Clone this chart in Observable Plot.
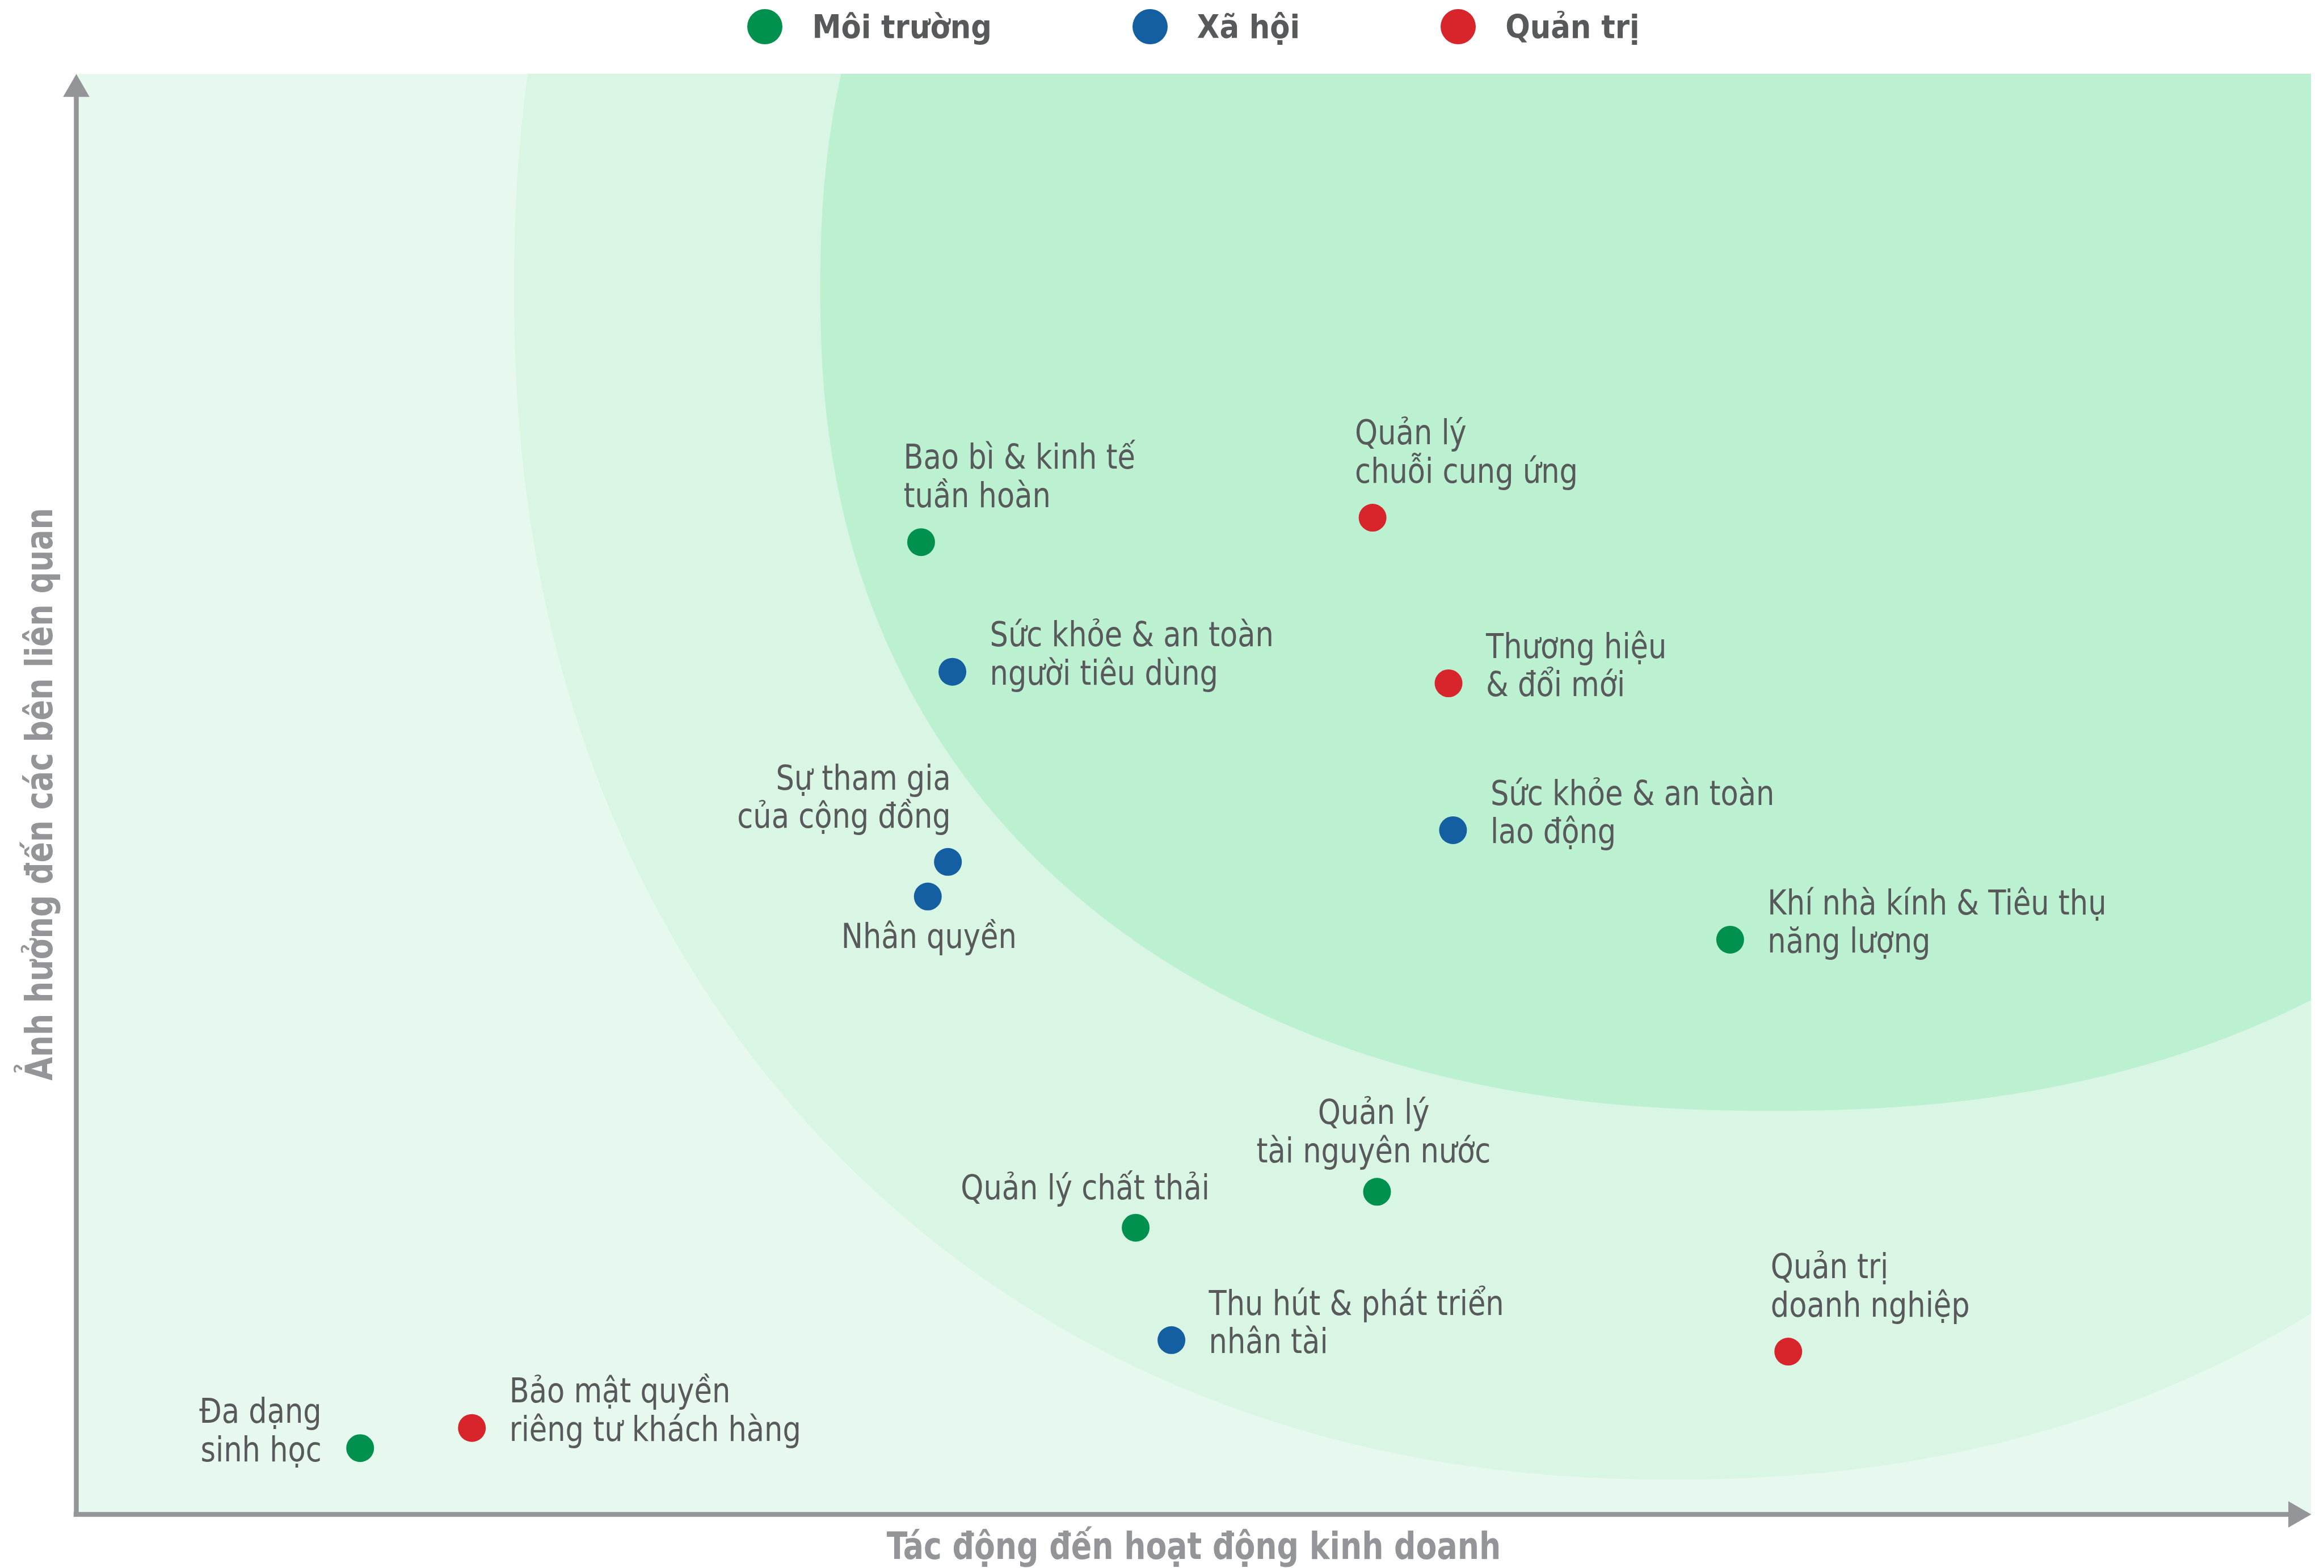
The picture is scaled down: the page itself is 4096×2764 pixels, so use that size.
<!DOCTYPE html>
<html><head><meta charset="utf-8">
<script src="https://cdn.jsdelivr.net/npm/d3@7"></script>
<script src="https://cdn.jsdelivr.net/npm/@observablehq/plot@0.6"></script>
<style>
html,body{margin:0;padding:0;background:#fff;}
#wrap{position:relative;width:4096px;height:2764px;overflow:hidden;}
#legend{position:absolute;top:0;left:134px;width:3939px;height:94px;display:flex;justify-content:center;align-items:center;
  font-family:"Liberation Sans Narrow","DejaVu Sans Condensed","DejaVu Sans",sans-serif;font-weight:bold;font-size:57px;color:#58595b;}
.item{display:flex;align-items:center;margin:0 124px;}
.sw{width:62px;height:62px;border-radius:50%;margin-right:52px;}
#chart{position:absolute;top:0;left:0;}
</style></head>
<body><div id="wrap"><div id="chart"></div><div id="legend"></div></div>
<script>
// ---- data ----
const categories = ["Môi trường", "Xã hội", "Quản trị"];
const categoryColors = ["#00914f", "#135fa1", "#d7252b"];

const topics = [
  "Bao bì & kinh tế\ntuần hoàn",
  "Quản lý\nchuỗi cung ứng",
  "Sức khỏe & an toàn\nngười tiêu dùng",
  "Thương hiệu\n& đổi mới",
  "Sự tham gia\ncủa cộng đồng",
  "Nhân quyền",
  "Sức khỏe & an toàn\nlao động",
  "Khí nhà kính & Tiêu thụ\nnăng lượng",
  "Quản lý\ntài nguyên nước",
  "Quản lý chất thải",
  "Thu hút & phát triển\nnhân tài",
  "Quản trị\ndoanh nghiệp",
  "Đa dạng\nsinh học",
  "Bảo mật quyền\nriêng tư khách hàng"
];
const topicGroup = ["Môi trường","Quản trị","Xã hội","Quản trị","Xã hội","Xã hội","Xã hội",
  "Môi trường","Môi trường","Môi trường","Xã hội","Quản trị","Môi trường","Quản trị"];
// x: Tác động đến hoạt động kinh doanh, y: Ảnh hưởng đến các bên liên quan (0–100)
const businessImpact = [37.8, 58.0, 39.2, 61.4, 39.0, 38.1, 61.6, 74.0, 58.2, 47.4, 49.0, 76.6, 12.7, 17.7];
const stakeholderInfluence = [67.5, 69.2, 58.5, 57.7, 45.3, 42.9, 47.5, 39.9, 22.4, 19.9, 12.1, 11.3, 4.6, 6.0];
const labelPlacement = ["above","above","right","right","aboveLeft","below","right","right",
  "aboveCenter","aboveShift","right","above","left","right"];

const xTitle = "Tác động đến hoạt động kinh doanh";
const yTitle = "Ảnh hưởng đến các bên liên quan";

// background zones (superellipses in data units)
const zoneCx = [71.5, 75.9];
const zoneCy = [85.1, 85.1];
const zoneRx = [51.9, 42.6];
const zoneRy = [82.7, 57.1];
const zoneExp = [2.15, 2.25];
const zoneFill = ["#d9f5e4", "#bbf0d1"];

// ---- layout / style ----
const placements = {
  right:       {textAnchor: "start",  dx: 66,  dy: 23},
  above:       {textAnchor: "start",  dx: -31, dy: -62},
  aboveCenter: {textAnchor: "middle", dx: -6,  dy: -52},
  aboveLeft:   {textAnchor: "end",    dx: 5,   dy: -60},
  aboveShift:  {textAnchor: "middle", dx: -89, dy: -50},
  below:       {textAnchor: "middle", dx: 2,   dy: 91},
  left:        {textAnchor: "end",    dx: -68, dy: 23}
};
const labelFont = '"Liberation Sans Narrow","DejaVu Sans Condensed","DejaVu Sans",sans-serif';
const axisGray = "#939598";
const textGray = "#58595b";

const data = topics.map((t, i) => ({
  topic: t, group: topicGroup[i], x: businessImpact[i], y: stakeholderInfluence[i], place: labelPlacement[i]
}));

function zoneOutline(i) {
  const n = 900, e = 2 / zoneExp[i], out = [];
  for (let k = 0; k <= n; k++) {
    const t = Math.PI - Math.PI * k / n;
    const c = Math.cos(t), s = Math.sin(t);
    const h = zoneRy[i] * Math.pow(Math.abs(s), e);
    out.push({x: zoneCx[i] + zoneRx[i] * Math.sign(c) * Math.pow(Math.abs(c), e), y1: zoneCy[i] - h, y2: zoneCy[i] + h});
  }
  return out;
}

const labelMarks = Object.entries(placements).map(([key, p]) =>
  Plot.text(data.filter(d => d.place === key), {
    x: "x", y: "y", text: "topic", textAnchor: p.textAnchor, dx: p.dx, dy: p.dy,
    lineAnchor: "bottom", lineHeight: 1.11, fontSize: 61, fontFamily: labelFont, fill: textGray
  })
);

const chart = Plot.plot({
  width: 4096, height: 2764,
  marginLeft: 134, marginRight: 23, marginTop: 130, marginBottom: 95,
  x: {domain: [0, 100], axis: null},
  y: {domain: [0, 100], axis: null},
  color: {domain: categories, range: categoryColors},
  style: {background: "white"},
  marks: [
    Plot.frame({fill: "#e7f9ef", stroke: "none"}),
    ...zoneFill.map((f, i) => Plot.areaY(zoneOutline(i), {x: "x", y1: "y1", y2: "y2", fill: f, clip: true})),
    Plot.ruleX([0], {stroke: axisGray, strokeWidth: 8.5, insetTop: 30, insetBottom: -4.25}),
    Plot.ruleY([0], {stroke: axisGray, strokeWidth: 8.5, insetRight: 30, insetLeft: -4.25}),
    Plot.dot([0], {x: 0, y: 100, symbol: "triangle", r: 17.3, fill: axisGray, dy: 26.9}),
    Plot.dot([0], {x: 100, y: 0, symbol: "triangle", r: 17.3, fill: axisGray, rotate: 90, dx: -26.9}),
    Plot.dot(data, {x: "x", y: "y", fill: "group", r: 24.5}),
    ...labelMarks,
    Plot.text([xTitle], {frameAnchor: "bottom", dy: 78, textAnchor: "middle", lineAnchor: "bottom", fontSize: 66, fontWeight: "bold", fontFamily: labelFont, fill: axisGray}),
    Plot.text([yTitle], {frameAnchor: "left", dx: -43, rotate: -90, textAnchor: "middle", lineAnchor: "bottom", fontSize: 66, fontWeight: "bold", fontFamily: labelFont, fill: axisGray})
  ]
});

// emulate the condensed face of the original by narrowing glyphs around each text's anchor
chart.querySelectorAll('g[aria-label="text"] text').forEach(t => {
  const isTitle = t.textContent === xTitle || t.textContent === yTitle;
  const tr = t.getAttribute("transform");
  if (tr) t.setAttribute("transform", tr + ` scale(${isTitle ? 0.905 : 0.93},1)`);
});
document.getElementById("chart").appendChild(chart);

const legend = document.getElementById("legend");
categories.forEach((c, i) => {
  const it = document.createElement("div"); it.className = "item";
  const sw = document.createElement("span"); sw.className = "sw"; sw.style.background = categoryColors[i];
  const tx = document.createElement("span"); tx.textContent = c;
  it.appendChild(sw); it.appendChild(tx); legend.appendChild(it);
});
</script></body></html>
